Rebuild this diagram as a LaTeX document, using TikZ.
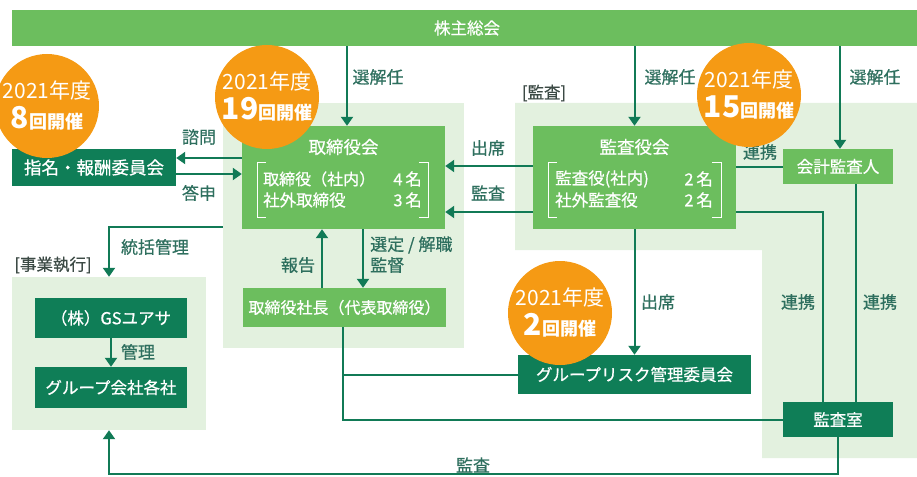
\documentclass[tikz,border=0pt]{standalone}
\usepackage{fontspec}
\setmainfont{Noto Sans CJK JP}
\newfontfamily\jpm[FakeBold=0.6]{Noto Sans CJK JP}
\usetikzlibrary{arrows.meta,calc}
\definecolor{mg}{HTML}{6CBE5E}
\definecolor{dg}{HTML}{0F7E57}
\definecolor{lg}{HTML}{E3F1DF}
\definecolor{og}{HTML}{F59A14}
\definecolor{lc}{HTML}{2E6F5E}
\definecolor{ln}{HTML}{117A56}
\definecolor{hd}{HTML}{3C4A45}
\begin{document}
\begin{tikzpicture}[x=1pt,y=-1pt,
  mbox/.style={fill=mg,text=white,inner sep=0pt,font=\jpm\fontsize{16.5}{18}\selectfont},
  dbox/.style={fill=dg,text=white,inner sep=0pt,font=\jpm\fontsize{16.5}{18}\selectfont},
  intext/.style={text=white,inner sep=0pt,font=\jpm\fontsize{16.5}{18}\selectfont},
  lbl/.style={text=lc,inner sep=0pt,font=\jpm\fontsize{17}{19}\selectfont},
  hdr/.style={text=hd,inner sep=0pt,font=\jpm\fontsize{16.5}{18}\selectfont},
  conn/.style={draw=ln,line width=2pt},
  arr/.style={conn,-{Triangle[length=9pt,width=12pt]}},
  badge/.style={circle,fill=og,text=white,minimum size=104pt,inner sep=0pt,align=center,font=\fontsize{21}{30}\selectfont},
  panel/.style={fill=lg,inner sep=0pt},
  brk/.style={draw=white,line width=0.9pt}]
\useasboundingbox (0,0) rectangle (917,476);
% panels
\node[panel,minimum width=241pt,minimum height=245pt] (bpanel) at (343.5,225.5) {};
\fill[lg] (515,103) -- (917,103) -- (917,458) -- (762,458) -- (762,250) -- (515,250) -- cycle;
\node[panel,minimum width=194pt,minimum height=153pt] (epanel) at (109,353.5) {};
% main boxes
\node[mbox,minimum width=905pt,minimum height=36pt] (top) at (464.5,28) {};
\node[text=white,inner sep=0pt,font=\jpm\fontsize{16.5}{18}\selectfont] (toplbl) at (467,28) {株主総会};
\node[mbox,minimum width=203pt,minimum height=103pt] (board) at (343.5,177.5) {};
\node[mbox,minimum width=203pt,minimum height=103pt] (audit) at (634.5,177.5) {};
\node[dbox,minimum width=164pt,minimum height=37pt,font=\jpm\fontsize{17.5}{19}\selectfont] (nom) at (94,167.5) {指名・報酬委員会};
\node[mbox,minimum width=110pt,minimum height=35pt] (acc) at (838,166.5) {会計監査人};
\node[mbox,minimum width=203pt,minimum height=39pt,font=\jpm\fontsize{16}{18}\selectfont] (pres) at (344.5,307.5) {取締役社長（代表取締役）};
\node[dbox,minimum width=233pt,minimum height=39pt] (grc) at (634.5,374.5) {グループリスク管理委員会};
\node[dbox,minimum width=110pt,minimum height=35pt] (aroom) at (838,419.5) {監査室};
\node[dbox,minimum width=152pt,minimum height=40pt] (gs) at (111,318) {（株）GSユアサ};
\node[dbox,minimum width=152pt,minimum height=41pt] (grp) at (111,387.5) {グループ会社各社};
% board contents
\node[intext,font=\jpm\fontsize{17.5}{19}\selectfont] (btitle) at (343.5,147) {取締役会};
\node[intext,anchor=west,font=\jpm\fontsize{16}{18}\selectfont] (b1l) at (263,179) {取締役（社内）};
\node[intext,anchor=east] (b1r) at (422,179) {4\,名};
\node[intext,anchor=west] (b2l) at (263,200) {社外取締役};
\node[intext,anchor=east] (b2r) at (422,200) {3\,名};
\draw[brk] (266,162) -- (257,162) -- (257,217) -- (266,217);
\draw[brk] (419,162) -- (428,162) -- (428,217) -- (419,217);
% audit contents
\node[intext,font=\jpm\fontsize{17.5}{19}\selectfont] (atitle) at (634.5,147) {監査役会};
\node[intext,anchor=west] (a1l) at (555,179) {監査役(社内)};
\node[intext,anchor=east] (a1r) at (713,179) {2\,名};
\node[intext,anchor=west] (a2l) at (555,200) {社外監査役};
\node[intext,anchor=east] (a2r) at (713,200) {2\,名};
\draw[brk] (557,162) -- (548,162) -- (548,217) -- (557,217);
\draw[brk] (712,162) -- (721,162) -- (721,217) -- (712,217);
% headers
\node[hdr] (hAudit) at (544,93) {[監査]};
\node[hdr] (hExec) at (53,265) {[事業執行]};
% connectors
\draw[arr] ([xshift=3.5pt]board.north |- top.south) -- ([xshift=3.5pt]board.north);
\draw[arr] (audit.north |- top.south) -- (audit.north);
\draw[arr] ([xshift=2pt]acc.north |- top.south) -- ([xshift=2pt]acc.north);
\draw[arr] ([yshift=9.5pt]nom.east -| board.west) -- ([yshift=9.5pt]nom.east);
\draw[arr] ([yshift=-6.5pt]nom.east) -- ([yshift=-6.5pt]nom.east -| board.west);
\draw[arr] ([yshift=11.5pt]audit.west) -- ([yshift=11.5pt]board.east);
\draw[arr] ([yshift=-34.5pt]audit.west) -- ([yshift=-34.5pt]board.east);
\draw[conn] (audit.east |- acc.west) -- (acc.west);
\draw[conn] ([yshift=-34.5pt]audit.east) -| ([xshift=-15pt]aroom.north);
\draw[conn] ([xshift=18pt]acc.south) -- ([xshift=18pt]aroom.north);
\draw[arr] ([xshift=-22.5pt]pres.north) -- ([xshift=-22.5pt]pres.north |- board.south);
\draw[arr] ([xshift=19.5pt]board.south) -- ([xshift=19.5pt]board.south |- pres.north);
\draw[arr] ([yshift=-1.5pt]bpanel.west) -| (epanel.north);
\draw[arr] (gs.south) -- (grp.north);
\draw[arr] (audit.south) -- (grc.north);
\draw[conn] ([xshift=-1.5pt]pres.south) |- (aroom.west);
\draw[conn] ([xshift=-1.5pt]pres.south |- grc.west) -- (grc.west);
\draw[arr] (aroom.south) |- (epanel.south |- 0,474) -- (epanel.south);
% labels
\node[lbl] (l1) at (378,77) {選解任};
\node[lbl] (l2) at (670,77) {選解任};
\node[lbl] (l3) at (875,77) {選解任};
\node[lbl] (l4) at (199,137) {諮問};
\node[lbl] (l5) at (199,193) {答申};
\node[lbl] (l6) at (488,148) {出席};
\node[lbl] (l7) at (488,193) {監査};
\node[lbl] (l8) at (760,152) {連携};
\node[lbl] (l9) at (298,265) {報告};
\node[lbl,anchor=west] (l10) at (370,245) {選定 / 解職};
\node[lbl,anchor=west] (l11) at (370,265) {監督};
\node[lbl] (l12) at (155,247) {統括管理};
\node[lbl] (l13) at (138,352) {管理};
\node[lbl] (l14) at (658,302) {出席};
\node[lbl] (l15) at (798,302) {連携};
\node[lbl] (l16) at (880,302) {連携};
\node[lbl] (l17) at (473,465) {監査};
% badges
\node[badge] (c8) at (47,106) {2021年度\\{\bfseries\fontsize{30}{30}\selectfont 8}{\bfseries\fontsize{18}{18}\selectfont 回開催}};
\node[badge] (c19) at (267,97) {2021年度\\{\bfseries\fontsize{30}{30}\selectfont 19}{\bfseries\fontsize{18}{18}\selectfont 回開催}};
\node[badge] (c15) at (749,95) {2021年度\\{\bfseries\fontsize{30}{30}\selectfont 15}{\bfseries\fontsize{18}{18}\selectfont 回開催}};
\node[badge] (c2) at (560,313) {2021年度\\{\bfseries\fontsize{30}{30}\selectfont 2}{\bfseries\fontsize{18}{18}\selectfont 回開催}};
\end{tikzpicture}
\end{document}
